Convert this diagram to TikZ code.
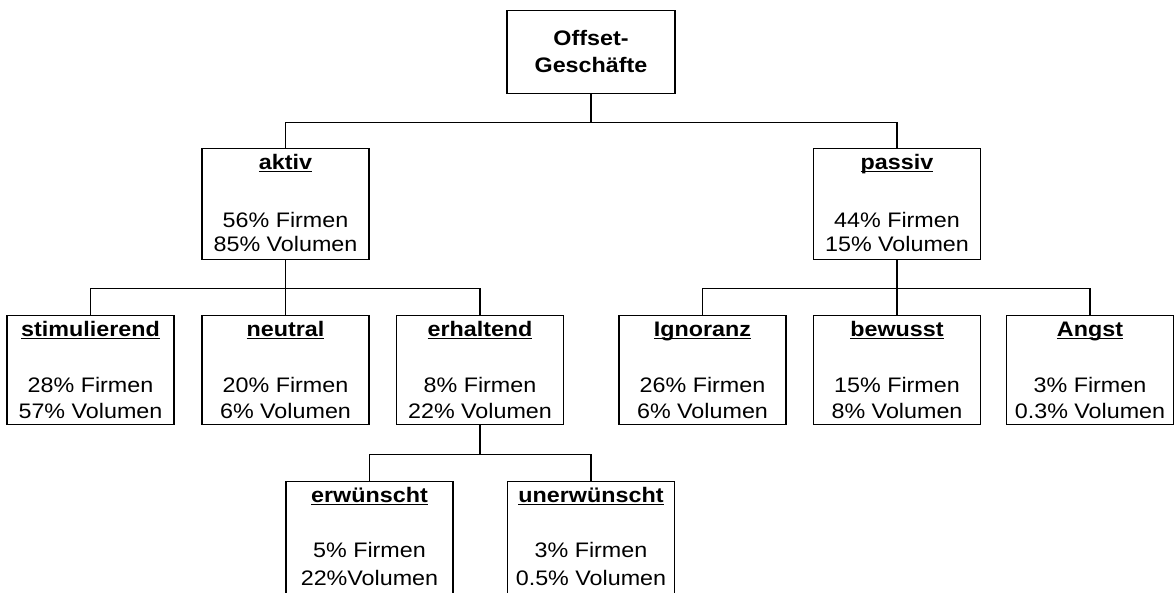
\documentclass[tikz,border=0pt]{standalone}
\usepackage{fontspec}
\setmainfont{Liberation Sans}[FakeStretch=1.11]
\usetikzlibrary{calc}
\newcommand\myul[1]{\setbox0\hbox{#1}\rlap{\rule[-3.2pt]{\wd0}{1.6pt}}\box0}
\tikzset{
  obx/.style={draw=black, line width=1.2pt, minimum width=167pt, inner sep=0pt, anchor=north},
  otx/.style={anchor=base, inner sep=0pt, font=\fontsize{21}{25}\selectfont},
  conn/.style={draw=black, line width=1.2pt}
}
% #1 name, #2 cx, #3 top, #4 height, #5 title, #6 line1, #7 line2, #8 off1, #9 off2
\newcommand\obox[9]{%
  \node[obx, minimum height=#4pt] (#1) at (#2,#3) {};
  \node[otx] (#1-t) at ($(#1.north)+(0,21)$) {\myul{\textbf{#5}}};
  \node[otx] (#1-a) at ($(#1.north)+(0,#8)$) {#6};
  \node[otx] (#1-b) at ($(#1.north)+(0,#9)$) {#7};
}
\begin{document}
\begin{tikzpicture}[x=1pt,y=-1pt]
\useasboundingbox (0,0) rectangle (1174,592);
% top
\node[obx, minimum width=168pt, minimum height=83pt] (top) at (591,10) {};
\node[otx] (top-t) at ($(top.north)+(0,35)$) {\textbf{Offset-}};
\node[otx] (top-b) at ($(top.north)+(0,62)$) {\textbf{Geschäfte}};
% level 2
\obox{aktiv}{285.5}{148}{111}{aktiv}{56\% Firmen}{85\% Volumen}{79}{103}
\obox{passiv}{897}{148}{111}{passiv}{44\% Firmen}{15\% Volumen}{79}{103}
% level 3
\obox{stim}{90.5}{315}{109}{stimulierend}{28\% Firmen}{57\% Volumen}{77}{103}
\obox{neut}{285.5}{315}{109}{neutral}{20\% Firmen}{6\% Volumen}{77}{103}
\obox{erh}{480}{315}{109}{erhaltend}{8\% Firmen}{22\% Volumen}{77}{103}
\obox{ign}{702.5}{315}{109}{Ignoranz}{26\% Firmen}{6\% Volumen}{77}{103}
\obox{bew}{897}{315}{109}{bewusst}{15\% Firmen}{8\% Volumen}{77}{103}
\obox{angst}{1090}{315}{109}{Angst}{3\% Firmen}{0.3\% Volumen}{77}{103}
% level 4
\obox{erw}{369.5}{481}{112}{erwünscht}{5\% Firmen}{22\%Volumen}{76}{104}
\obox{unerw}{591}{481}{112}{unerwünscht}{3\% Firmen}{0.5\% Volumen}{76}{104}
% connectors
\coordinate (j1) at ($(top.south)+(0,28)$);
\draw[conn] (top.south) -- (j1);
\draw[conn] (aktiv.north) |- (j1) -| (passiv.north);
\coordinate (j2) at ($(aktiv.south)+(0,28)$);
\draw[conn] (aktiv.south) -- (neut.north);
\draw[conn] (stim.north) |- (j2) -| (erh.north);
\coordinate (j3) at ($(passiv.south)+(0,28)$);
\draw[conn] (passiv.south) -- (bew.north);
\draw[conn] (ign.north) |- (j3) -| (angst.north);
\coordinate (j4) at ($(erh.south)+(0,29)$);
\draw[conn] (erh.south) -- (j4);
\draw[conn] (erw.north) |- (j4) -| (unerw.north);
\end{tikzpicture}
\end{document}
